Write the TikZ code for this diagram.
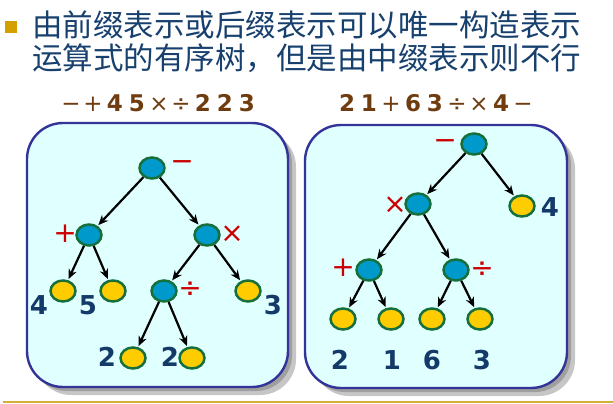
\documentclass[tikz,border=0pt]{standalone}
\usepackage{fontspec}
\setmainfont{DejaVu Sans}
\newfontfamily\cjk{Noto Sans CJK SC}
\usetikzlibrary{shapes.geometric,arrows.meta}

\definecolor{titleblue}{RGB}{23,64,110}
\definecolor{numblue}{RGB}{20,58,105}
\definecolor{exprbrown}{RGB}{110,60,15}
\definecolor{opred}{RGB}{204,0,0}
\definecolor{bulletgold}{RGB}{212,160,0}
\definecolor{linegold}{RGB}{212,175,55}
\definecolor{boxline}{RGB}{51,51,153}
\definecolor{boxfill}{RGB}{224,255,255}
\definecolor{nodegreen}{RGB}{23,112,60}
\definecolor{opblue}{RGB}{0,153,204}
\definecolor{leafyellow}{RGB}{255,204,0}

\newcommand{\ch}[1]{\makebox[22pt]{#1}}
\newcommand{\dg}[1]{\makebox[22pt]{\bfseries #1}}

\tikzset{
  opnode/.style={ellipse, draw=nodegreen, line width=2.5pt, fill=opblue,
    minimum width=25pt, minimum height=21pt, inner sep=0pt},
  leafnode/.style={opnode, fill=leafyellow},
  treearrow/.style={line width=2.2pt, shorten >=1pt,
    -{Stealth[length=10pt,width=8.5pt]}},
  oplabel/.style={text=opred, inner sep=0pt, font=\fontsize{28}{28}\selectfont},
  numlabel/.style={text=numblue, inner sep=0pt, font=\fontsize{26}{26}\selectfont\bfseries},
  exprtext/.style={text=exprbrown, inner sep=0pt, font=\fontsize{23}{23}\selectfont},
  boxshadow/.style={rounded corners=36pt},
  treebox/.style={rounded corners=36pt, draw=boxline, line width=2.4pt, fill=boxfill}
}

\begin{document}
\begin{tikzpicture}[x=1pt,y=-1pt]
  \useasboundingbox (0,0) rectangle (613,404);

  % heading
  \fill[bulletgold] (5,21) rectangle (17,33);
  \node[anchor=west, inner sep=0pt, text=titleblue, font=\cjk\fontsize{30.5}{30.5}\selectfont]
    (line1) at (32,25) {由前缀表示或后缀表示可以唯一构造表示};
  \node[anchor=west, inner sep=0pt, text=titleblue, font=\cjk\fontsize{30.5}{30.5}\selectfont]
    (line2) at (32,58) {运算式的有序树，但是由中缀表示则不行};

  \node[exprtext] (prefix) at (159,103)
    {\ch{−}\ch{+}\dg{4}\dg{5}\ch{×}\ch{÷}\dg{2}\dg{2}\dg{3}};
  \node[exprtext] (postfix) at (435,103)
    {\dg{2}\dg{1}\ch{+}\dg{6}\dg{3}\ch{÷}\ch{×}\dg{4}\ch{−}};

  % boxes with shadows
  \fill[gray!45, boxshadow] (35,131) rectangle (296,395);
  \fill[gray!75, boxshadow] (31,127) rectangle (292,391);
  \draw[treebox] (27,123) rectangle (288,387);
  \fill[gray!45, boxshadow] (313,133) rectangle (575,396);
  \fill[gray!75, boxshadow] (309,129) rectangle (571,392);
  \draw[treebox] (305,125) rectangle (567,388);

  % prefix tree
  \node[opnode] (lroot) at (152,168) {};
  \node[opnode] (lplus) at (89,235) {};
  \node[opnode] (ltimes) at (207,235) {};
  \node[leafnode] (lfour) at (63,291) {};
  \node[leafnode] (lfive) at (113,291) {};
  \node[opnode] (ldiv) at (164,291) {};
  \node[leafnode] (lthree) at (248,291) {};
  \node[leafnode] (ltwoa) at (133,358) {};
  \node[leafnode] (ltwob) at (192,358) {};

  \draw[treearrow] (lroot) -- (lplus);
  \draw[treearrow] (lroot) -- (ltimes);
  \draw[treearrow] (lplus) -- (lfour);
  \draw[treearrow] (lplus) -- (lfive);
  \draw[treearrow] (ltimes) -- (ldiv);
  \draw[treearrow] (ltimes) -- (lthree);
  \draw[treearrow] (ldiv) -- (ltwoa);
  \draw[treearrow] (ldiv) -- (ltwob);

  \node[oplabel, at={(lroot)}, xshift=30pt, yshift=2pt] {−};
  \node[oplabel, at={(lplus)}, xshift=-24pt, yshift=1pt] {+};
  \node[oplabel, at={(ltimes)}, xshift=25pt, yshift=1pt] {×};
  \node[oplabel, at={(ldiv)}, xshift=26pt, yshift=1pt] {÷};
  \node[numlabel, at={(lfour)}, xshift=-24pt, yshift=-14pt] {4};
  \node[numlabel, at={(lfive)}, xshift=-25pt, yshift=-14pt] {5};
  \node[numlabel, at={(lthree)}, xshift=25pt, yshift=-14pt] {3};
  \node[numlabel, at={(ltwoa)}, xshift=-26pt, yshift=1pt] {2};
  \node[numlabel, at={(ltwob)}, xshift=-22pt, yshift=1pt] {2};

  % postfix tree
  \node[opnode] (rroot) at (474,144) {};
  \node[leafnode] (rfour) at (522,206) {};
  \node[opnode] (rtimes) at (418,204) {};
  \node[opnode] (rplus) at (369,270) {};
  \node[opnode] (rdiv) at (456,270) {};
  \node[leafnode] (rtwo) at (343,319) {};
  \node[leafnode] (rone) at (391,319) {};
  \node[leafnode] (rsix) at (432,319) {};
  \node[leafnode] (rthree) at (480,319) {};

  \draw[treearrow] (rroot) -- (rtimes);
  \draw[treearrow] (rroot) -- (rfour);
  \draw[treearrow] (rtimes) -- (rplus);
  \draw[treearrow] (rtimes) -- (rdiv);
  \draw[treearrow] (rplus) -- (rtwo);
  \draw[treearrow] (rplus) -- (rone);
  \draw[treearrow] (rdiv) -- (rsix);
  \draw[treearrow] (rdiv) -- (rthree);

  \node[oplabel, at={(rroot)}, xshift=-29pt, yshift=-1pt] {−};
  \node[oplabel, at={(rtimes)}, xshift=-23pt, yshift=-1pt] {×};
  \node[oplabel, at={(rplus)}, xshift=-26pt, yshift=2pt] {+};
  \node[oplabel, at={(rdiv)}, xshift=26pt] {÷};
  \node[numlabel, at={(rfour)}, xshift=28pt, yshift=-1pt] {4};
  \node[numlabel, at={(rtwo)}, xshift=-3pt, yshift=-41pt] {2};
  \node[numlabel, at={(rone)}, xshift=1pt, yshift=-41pt] {1};
  \node[numlabel, at={(rsix)}, yshift=-41pt] {6};
  \node[numlabel, at={(rthree)}, xshift=2pt, yshift=-41pt] {3};

  \draw[linegold, line width=2pt] (3,402) -- (613,402);
\end{tikzpicture}
\end{document}
